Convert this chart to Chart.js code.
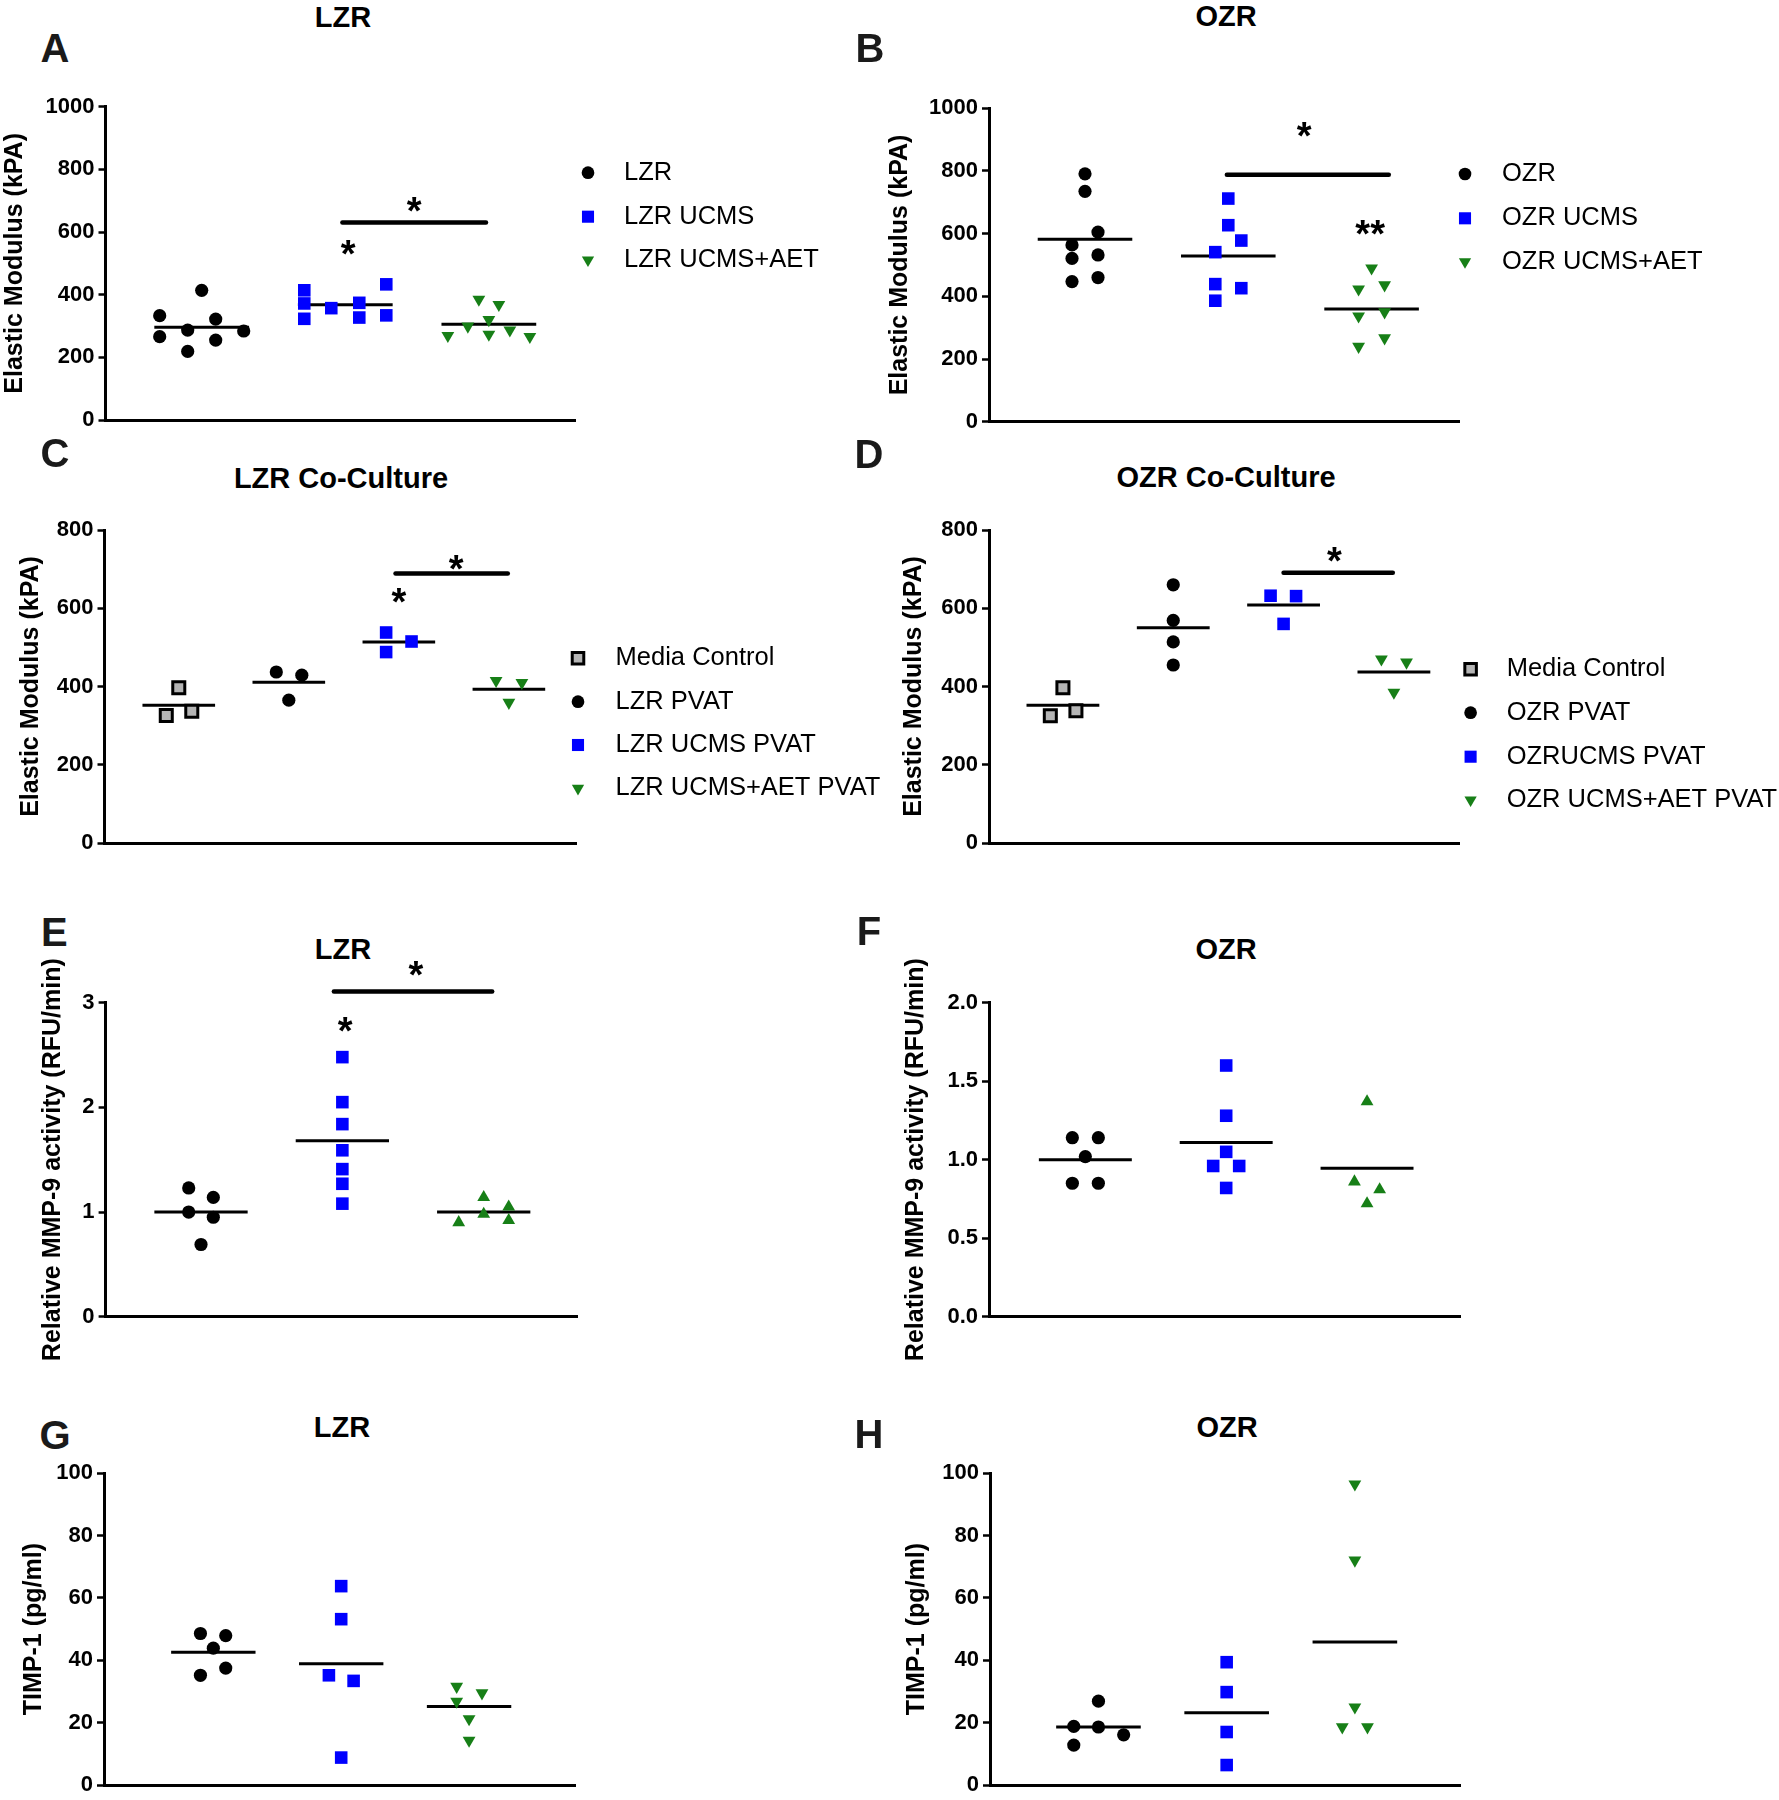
<!DOCTYPE html>
<html>
<head>
<meta charset="utf-8">
<script src="https://cdn.jsdelivr.net/npm/chart.js@4.4.1/dist/chart.umd.min.js"></script>
<style>
  html, body { margin: 0; padding: 0; background: #fff; }
  #page { position: relative; width: 1779px; height: 1800px; overflow: hidden; font-family: 'Liberation Sans', Arial, sans-serif; }
  #page canvas { position: absolute; }
  .lbl { position: absolute; transform: translate(-50%, -50%); line-height: 1; font-weight: bold; white-space: nowrap; color: #000; }
  .letter { font-size: 40px; color: #1a1a1a; }
  .ttl { font-size: 29px; }
</style>
</head>
<body>
<div id="page"></div>
<script>
const FONT = "'Liberation Sans', Arial, sans-serif";

// ---- values ----
// A: LZR elastic modulus (kPA)
const aLabels = ['LZR', 'LZR UCMS', 'LZR UCMS+AET'];
const aLZR = [414, 333, 322, 287, 284, 266, 255, 219];
const aUCMS = [414, 372, 323, 357, 374, 327, 433, 334];
const aAET = [385, 368, 320, 299, 269, 273, 287, 266];
const aMeans = [296, 368, 306];

// B: OZR elastic modulus (kPA)
const bLabels = ['OZR', 'OZR UCMS', 'OZR UCMS+AET'];
const bOZR = [791, 735, 605, 564, 521, 532, 447, 460];
const bUCMS = [712, 627, 578, 541, 439, 426, 386];
const bAET = [490, 436, 423, 337, 350, 267, 240];
const bMeans = [582, 529, 360];

// C: LZR co-culture
const cLabels = ['Media Control', 'LZR PVAT', 'LZR UCMS PVAT', 'LZR UCMS+AET PVAT'];
const cMedia = [397, 326, 337];
const cLZR = [437, 429, 365];
const cUCMS = [538, 488, 515];
const cAET = [415, 410, 359];
const cMeans = [352, 411, 514, 393];

// D: OZR co-culture
const dLabels = ['Media Control', 'OZR PVAT', 'OZRUCMS PVAT', 'OZR UCMS+AET PVAT'];
const dMedia = [397, 325, 338];
const dOZR = [660, 569, 514, 455];
const dUCMS = [632, 631, 560];
const dAET = [470, 462, 385];
const dMeans = [352, 550, 608, 437];

// E: LZR relative MMP-9 activity
const eLZR = [1.23, 1.14, 1.00, 0.95, 0.69];
const eUCMS = [2.48, 2.05, 1.84, 1.59, 1.41, 1.27, 1.08];
const eAET = [1.14, 1.05, 0.98, 0.90, 0.92];
const eMeans = [1.00, 1.68, 1.00];

// F: OZR relative MMP-9 activity
const fOZR = [1.14, 1.14, 1.02, 0.85, 0.85];
const fUCMS = [1.60, 1.28, 1.05, 0.96, 0.96, 0.82];
const fAET = [1.37, 0.86, 0.81, 0.72];
const fMeans = [1.00, 1.11, 0.945];

// G: LZR TIMP-1
const gLZR = [48.6, 47.9, 43.9, 37.5, 35.2];
const gUCMS = [63.8, 53.2, 35.2, 33.4, 8.8];
const gAET = [31.6, 29.5, 26.8, 21.2, 14.3];
const gMeans = [42.6, 38.9, 25.2];

// H: OZR TIMP-1
const hOZR = [26.9, 18.8, 18.6, 16.1, 12.8];
const hUCMS = [39.4, 29.8, 17.0, 6.4];
const hAET = [96.5, 72.1, 25.0, 18.6, 18.6];
const hMeans = [18.6, 23.2, 45.9];

// ---- layout: sideways spread of overlapping points (px from group centre) ----
const spread = {
  aLZR: [0, -42, 14, -14, 42, -42, 14, -14],
  aUCMS: [-41, -41, -41, -14, 14, 14, 41, 41],
  aAET: [-10, 10, 0, -21, -41, 0, 21, 41],
  bOZR: [0, 0, 13, -13, -13, 13, -13, 13],
  bUCMS: [0, 0, 13, -13, -13, 13, -13],
  bAET: [0, 13, -13, -13, 13, 13, -13],
  cMedia: [0, -12.5, 13], cLZR: [-12.5, 13, 0], cUCMS: [-12.7, -12.7, 12.7], cAET: [-12.8, 13, 0],
  dMedia: [0, -12.6, 13], dOZR: [0, 0, 0, 0], dUCMS: [-13, 12.5, 0], dAET: [-12.5, 12.6, 0],
  eLZR: [-12.3, 12.3, -12.3, 12.3, 0], eUCMS: [0, 0, 0, 0, 0, 0, 0], eAET: [0, 25, 0, -25, 25],
  fOZR: [-13, 13, 0, -13, 13], fUCMS: [0, 0, 0, -13, 13, 0], fAET: [0, -12.6, 12.6, 0],
  gLZR: [-12.9, 12.4, 0, 12.4, -12.9], gUCMS: [0, 0, -12.3, 12.4, 0], gAET: [-12.4, 12.9, -12.4, 0, 0],
  hOZR: [0, -24.7, 0, 25.2, -24.7], hUCMS: [0, 0, 0, 0], hAET: [0, 0, 0, -12.6, 12.6]
};

const GREEN = '#177f17';
const STY = {
  black: { pointStyle: 'circle', radius: 6.6, bg: '#000', border: '#000', bw: 0, rot: 0 },
  blue: { pointStyle: 'rect', radius: 8.9, bg: '#0000ff', border: '#0000ff', bw: 0, rot: 0 },
  down: { pointStyle: 'triangle', radius: 7.4, bg: GREEN, border: GREEN, bw: 0, rot: 180 },
  up: { pointStyle: 'triangle', radius: 7.4, bg: GREEN, border: GREEN, bw: 0, rot: 0 },
  media: { pointStyle: 'rect', radius: 8.5, bg: '#b5b5b5', border: '#000', bw: 3, rot: 0 }
};

const EM = 'Elastic Modulus (kPA)';
const MMP = 'Relative MMP-9 activity (RFU/min)';
const TIMP = 'TIMP-1 (pg/ml)';

const panels = [
  { letter: 'A', lp: [55, 48], title: 'LZR', tp: [343, 17],
    box: [0, 0, 880, 440], plot: { left: 105.5, top: 106.7, right: 575, bottom: 420 },
    xRange: [0.33, 3.6], yMax: 1000, yStep: 200, yTitle: EM, gap: 90.5,
    groups: [[aLZR, spread.aLZR, 'black'], [aUCMS, spread.aUCMS, 'blue'], [aAET, spread.aAET, 'down']],
    means: aMeans, bars: [[1.98, 2.98, 630]], stars: [['*', 2.48, 687], ['*', 2.02, 550]],
    legend: { labels: aLabels, mx: 588, tx: 624, rows: [172.7, 216.7, 260] } },
  { letter: 'B', lp: [870, 48], title: 'OZR', tp: [1226, 16],
    box: [880, 0, 899, 440], plot: { left: 989, top: 108.3, right: 1459, bottom: 421.7 },
    xRange: [0.33, 3.61], yMax: 1000, yStep: 200, yTitle: EM, gap: 89,
    groups: [[bOZR, spread.bOZR, 'black'], [bUCMS, spread.bUCMS, 'blue'], [bAET, spread.bAET, 'down']],
    means: bMeans, bars: [[1.99, 3.12, 788]], stars: [['*', 2.53, 931], ['**', 2.99, 621]],
    legend: { labels: bLabels, mx: 1465, tx: 1502, rows: [174, 218.3, 261.7] } },
  { letter: 'C', lp: [55, 453], title: 'LZR Co-Culture', tp: [341, 478],
    box: [0, 440, 880, 440], plot: { left: 104.5, top: 530, right: 576, bottom: 843 },
    xRange: [0.325, 4.61], yMax: 800, yStep: 200, yTitle: EM, gap: 73.5,
    groups: [[cMedia, spread.cMedia, 'media'], [cLZR, spread.cLZR, 'black'], [cUCMS, spread.cUCMS, 'blue'], [cAET, spread.cAET, 'down']],
    means: cMeans, bars: [[2.97, 3.99, 689]], stars: [['*', 3.52, 718], ['*', 3.0, 633]],
    legend: { labels: cLabels, mx: 578, tx: 615.6, rows: [658.3, 701.7, 745, 788.3] } },
  { letter: 'D', lp: [869, 454], title: 'OZR Co-Culture', tp: [1226, 477],
    box: [880, 440, 899, 440], plot: { left: 989, top: 530, right: 1459, bottom: 843 },
    xRange: [0.33, 4.59], yMax: 800, yStep: 200, yTitle: EM, gap: 74.5,
    groups: [[dMedia, spread.dMedia, 'media'], [dOZR, spread.dOZR, 'black'], [dUCMS, spread.dUCMS, 'blue'], [dAET, spread.dAET, 'down']],
    means: dMeans, bars: [[3.0, 3.99, 691]], stars: [['*', 3.46, 738]],
    legend: { labels: dLabels, mx: 1470.6, tx: 1506.7, rows: [669.3, 712.7, 756.7, 800] } },
  { letter: 'E', lp: [54.4, 932], title: 'LZR', tp: [343, 949],
    box: [0, 880, 880, 490], plot: { left: 105.6, top: 1002.7, right: 577, bottom: 1316.7 },
    xRange: [0.325, 3.66], yMax: 3, yStep: 1, yTitle: MMP, gap: 52.6,
    groups: [[eLZR, spread.eLZR, 'black'], [eUCMS, spread.eUCMS, 'blue'], [eAET, spread.eAET, 'up']],
    means: eMeans, bars: [[1.94, 3.06, 3.106]], stars: [['*', 2.52, 3.33], ['*', 2.02, 2.79]] },
  { letter: 'F', lp: [869, 931], title: 'OZR', tp: [1226, 949],
    box: [880, 880, 899, 490], plot: { left: 989, top: 1002.7, right: 1460, bottom: 1316.7 },
    xRange: [0.316, 3.66], yMax: 2, yStep: 0.5, yTitle: MMP, gap: 73, fmt: v => v.toFixed(1),
    groups: [[fOZR, spread.fOZR, 'black'], [fUCMS, spread.fUCMS, 'blue'], [fAET, spread.fAET, 'up']],
    means: fMeans, bars: [], stars: [] },
  { letter: 'G', lp: [55, 1435], title: 'LZR', tp: [342, 1427],
    box: [0, 1370, 880, 430], plot: { left: 104, top: 1473.3, right: 575.2, bottom: 1786.7 },
    xRange: [0.145, 3.83], yMax: 100, yStep: 20, yTitle: TIMP, gap: 70,
    groups: [[gLZR, spread.gLZR, 'black'], [gUCMS, spread.gUCMS, 'blue'], [gAET, spread.gAET, 'down']],
    means: gMeans, bars: [], stars: [] },
  { letter: 'H', lp: [869, 1434], title: 'OZR', tp: [1227, 1427],
    box: [880, 1370, 899, 430], plot: { left: 990, top: 1473.3, right: 1460, bottom: 1786.7 },
    xRange: [0.154, 3.82], yMax: 100, yStep: 20, yTitle: TIMP, gap: 73,
    groups: [[hOZR, spread.hOZR, 'black'], [hUCMS, spread.hUCMS, 'blue'], [hAET, spread.hAET, 'down']],
    means: hMeans, bars: [], stars: [] }
];

function drawMarker(ctx, s, x, y, k) {
  const r = s.radius * k;
  ctx.beginPath();
  if (s.pointStyle === 'circle') {
    ctx.arc(x, y, r, 0, Math.PI * 2);
  } else if (s.pointStyle === 'rect') {
    const h = r * Math.SQRT1_2;
    ctx.rect(x - h, y - h, 2 * h, 2 * h);
  } else {
    const d = s.rot ? -1 : 1;
    ctx.moveTo(x, y - d * r);
    ctx.lineTo(x + r * 0.866, y + d * r * 0.5);
    ctx.lineTo(x - r * 0.866, y + d * r * 0.5);
    ctx.closePath();
  }
  ctx.fillStyle = s.bg;
  ctx.fill();
  if (s.bw) { ctx.lineWidth = s.bw; ctx.strokeStyle = s.border; ctx.stroke(); }
}

// stars above comparisons + the side legend
const decor = {
  id: 'decor',
  afterDatasetsDraw(chart, args, opts) {
    const ctx = chart.ctx;
    const xs = chart.scales.x, ys = chart.scales.y;
    ctx.save();
    ctx.fillStyle = '#000';
    ctx.font = 'bold 38px ' + FONT;
    ctx.textAlign = 'center';
    ctx.textBaseline = 'alphabetic';
    (opts.stars || []).forEach(([t, x, y]) => {
      const m = ctx.measureText(t);
      const base = ys.getPixelForValue(y) + (m.actualBoundingBoxAscent - m.actualBoundingBoxDescent) / 2;
      ctx.fillText(t, xs.getPixelForValue(x), base);
    });
    const lg = opts.legend;
    if (lg) {
      lg.labels.forEach((txt, i) => {
        const y = lg.rows[i] - opts.oy;
        drawMarker(ctx, STY[lg.styles[i]], lg.mx - opts.ox, y, 0.96);
        ctx.fillStyle = '#000';
        ctx.font = '25.5px ' + FONT;
        ctx.textAlign = 'left';
        ctx.textBaseline = 'middle';
        ctx.fillText(txt, lg.tx - opts.ox, y);
      });
    }
    ctx.restore();
  }
};

const page = document.getElementById('page');

function addLabel(text, pos, cls) {
  const d = document.createElement('div');
  d.className = 'lbl ' + cls;
  d.textContent = text;
  d.style.left = pos[0] + 'px';
  d.style.top = pos[1] + 'px';
  page.appendChild(d);
}

panels.forEach(p => {
  addLabel(p.letter, p.lp, 'letter');
  addLabel(p.title, p.tp, 'ttl');

  const [bl, bt, bw, bh] = p.box;
  const canvas = document.createElement('canvas');
  canvas.width = bw;
  canvas.height = bh;
  canvas.style.left = bl + 'px';
  canvas.style.top = bt + 'px';
  page.appendChild(canvas);

  const pxPerUnit = (p.plot.right - p.plot.left) / (p.xRange[1] - p.xRange[0]);
  const yWidth = p.gap + 15;
  const datasets = [];

  p.groups.forEach(([values, offs, style], i) => {
    const s = STY[style];
    datasets.push({
      data: values.map((v, k) => ({ x: i + 1 + offs[k] / pxPerUnit, y: v })),
      pointStyle: s.pointStyle,
      pointRadius: s.radius,
      pointRotation: s.rot,
      pointBackgroundColor: s.bg,
      pointBorderColor: s.border,
      pointBorderWidth: s.bw,
      showLine: false,
      clip: false
    });
  });
  p.means.forEach((m, i) => {
    datasets.push({
      data: [{ x: i + 1 - 0.33, y: m }, { x: i + 1 + 0.33, y: m }],
      showLine: true, borderColor: '#000', borderWidth: 3, pointRadius: 0, clip: false
    });
  });
  p.bars.forEach(([x1, x2, y]) => {
    datasets.push({
      data: [{ x: x1, y: y }, { x: x2, y: y }],
      showLine: true, borderColor: '#000', borderWidth: 4.5, borderCapStyle: 'round', pointRadius: 0, clip: false
    });
  });

  const legend = p.legend ? Object.assign({}, p.legend, { styles: p.groups.map(g => g[2]) }) : null;

  new Chart(canvas.getContext('2d'), {
    type: 'scatter',
    data: { datasets },
    options: {
      responsive: false,
      animation: false,
      devicePixelRatio: 1,
      events: [],
      layout: {
        padding: {
          left: p.plot.left - bl - yWidth,
          top: p.plot.top - bt,
          right: bl + bw - p.plot.right,
          bottom: bt + bh - p.plot.bottom
        }
      },
      scales: {
        x: {
          type: 'linear', min: p.xRange[0], max: p.xRange[1],
          ticks: { display: false },
          grid: { display: false },
          border: { display: true, color: '#000', width: 3 },
          afterFit: s => { s.height = 0; }
        },
        y: {
          type: 'linear', min: 0, max: p.yMax,
          ticks: {
            stepSize: p.yStep, color: '#000', padding: 4,
            font: { family: FONT, size: 22, weight: 'bold', lineHeight: 1 },
            callback: p.fmt || (v => v)
          },
          grid: { display: true, drawOnChartArea: false, drawTicks: true, tickLength: 7, tickWidth: 2.5, tickColor: '#000' },
          border: { display: true, color: '#000', width: 3 },
          title: { display: true, text: p.yTitle, color: '#000', padding: 0,
                   font: { family: FONT, size: 25, weight: 'bold', lineHeight: 1.2 } },
          afterFit: s => { s.width = yWidth; }
        }
      },
      plugins: {
        legend: { display: false },
        tooltip: { enabled: false },
        decor: { stars: p.stars, legend: legend, ox: bl, oy: bt }
      }
    },
    plugins: [decor]
  });
});
</script>
</body>
</html>
